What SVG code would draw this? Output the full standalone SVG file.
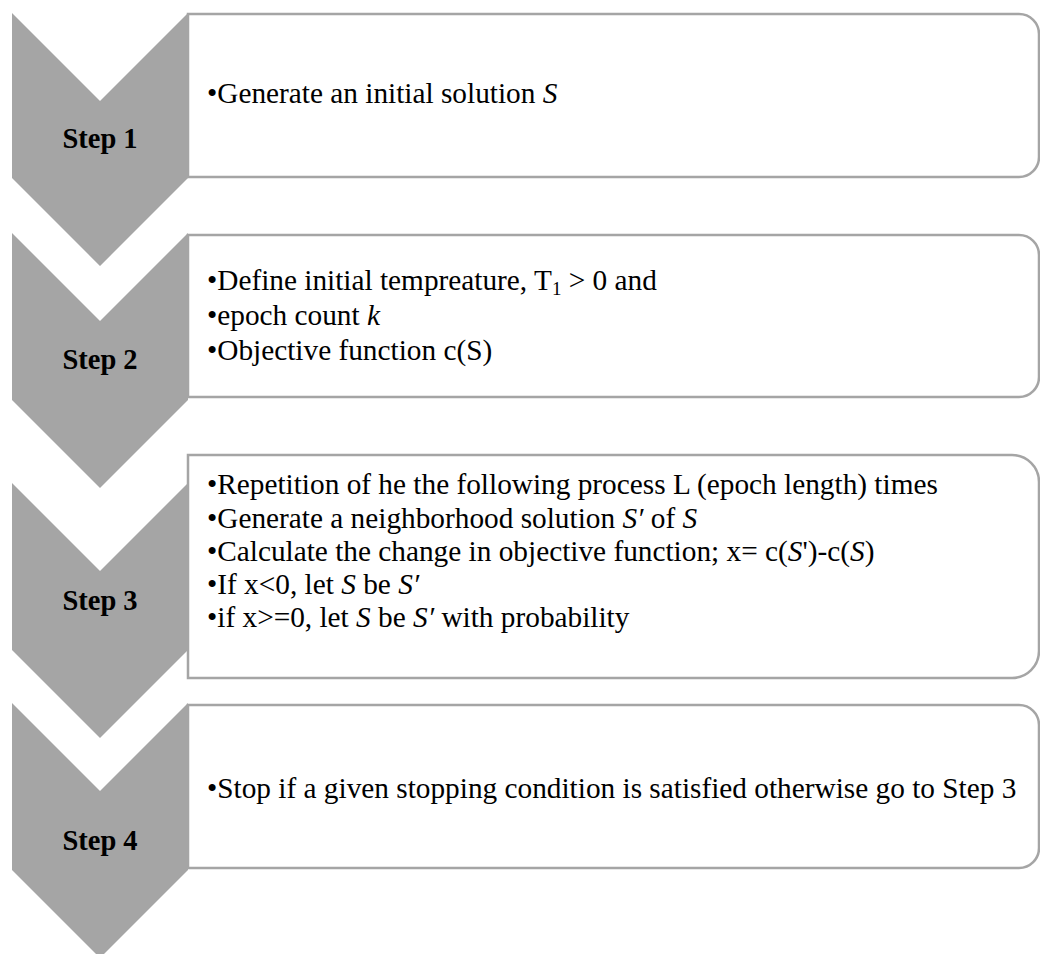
<svg xmlns="http://www.w3.org/2000/svg" width="1040" height="954" viewBox="0 0 1040 954">
<style>
.chev{fill:#a5a5a5;}
.box{fill:#fff;stroke:#a5a5a5;stroke-width:2.5;}
.lbl{font-family:"Liberation Serif","Times New Roman",serif;font-weight:bold;font-size:28.5px;fill:#000;text-anchor:middle;}
.txt{font-family:"Liberation Serif","Times New Roman",serif;font-size:29.3px;fill:#000;}
.i{font-style:italic;}
</style>
<rect width="1040" height="954" fill="#fff"/>
<g id="connectors"></g>
<g id="step1">
<path class="box" d="M188,14 H1019 A20,20 0 0 1 1039,34 V157 A20,20 0 0 1 1019,177 H188 Z"/>
<path class="chev" d="M12,13 L100,101 L188,13 L188,178 L100,266 L12,178 Z"/>
<text class="lbl" x="100" y="148">Step 1</text>
<text class="txt" x="207" y="103">•Generate an initial solution <tspan class="i">S</tspan></text>
</g>
<g id="step2">
<path class="box" d="M188,235 H1019 A20,20 0 0 1 1039,255 V377 A20,20 0 0 1 1019,397 H188 Z"/>
<path class="chev" d="M12,233 L100,321 L188,233 L188,400 L100,488 L12,400 Z"/>
<text class="lbl" x="100" y="369">Step 2</text>
<text class="txt" x="207" y="290">•Define initial tempreature, T<tspan font-size="19" dy="5">1</tspan><tspan dy="-5"> &gt; 0 and</tspan></text>
<text class="txt" x="207" y="325">•epoch count <tspan class="i">k</tspan></text>
<text class="txt" x="207" y="360">•Objective function c(S)</text>
</g>
<g id="step3">
<path class="box" d="M188,455 H1012 A27,27 0 0 1 1039,482 V651 A27,27 0 0 1 1012,678 H188 Z"/>
<path class="chev" d="M12,483 L100,571 L188,483 L188,650 L100,738 L12,650 Z"/>
<text class="lbl" x="100" y="610">Step 3</text>
<text class="txt" x="207" y="494">•Repetition of he the following process L (epoch length) times</text>
<text class="txt" x="207" y="528">•Generate a neighborhood solution <tspan class="i">S′</tspan> of <tspan class="i">S</tspan></text>
<text class="txt" x="207" y="561">•Calculate the change in objective function; x= c(<tspan class="i">S</tspan>')-c(<tspan class="i">S</tspan>)</text>
<text class="txt" x="207" y="594">•If x&lt;0, let <tspan class="i">S</tspan> be <tspan class="i">S′</tspan></text>
<text class="txt" x="207" y="627">•if x&gt;=0, let <tspan class="i">S</tspan> be <tspan class="i">S′</tspan> with probability</text>
</g>
<g id="step4">
<path class="box" d="M188,705 H1019 A20,20 0 0 1 1039,725 V848 A20,20 0 0 1 1019,868 H188 Z"/>
<path class="chev" d="M12,703 L100,791 L188,703 L188,870 L100,958 L12,870 Z"/>
<text class="lbl" x="100" y="850">Step 4</text>
<text class="txt" x="207" y="798">•Stop if a given stopping condition is satisfied otherwise go to Step 3</text>
</g>
</svg>
